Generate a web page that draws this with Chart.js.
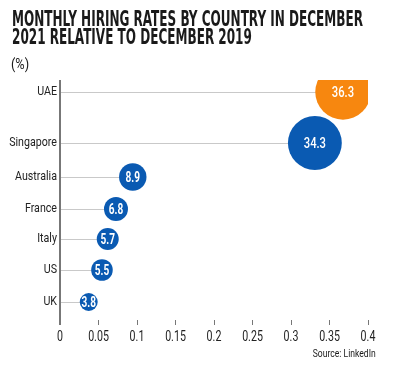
<!DOCTYPE html>
<html lang="en">
<head>
    <meta charset="UTF-8">
    <title>Monthly hiring rates by country</title>
    <script src="https://cdn.jsdelivr.net/npm/chart.js"></script>
    <style>
        body {
            margin: 0;
            padding: 0;
            background: white;
            font-family: "Liberation Sans Narrow", "DejaVu Sans Condensed", Roboto, sans-serif;
            color: #1a1a1a;
        }
        .wrap {
            position: relative;
            width: 400px;
            height: 373px;
            overflow: hidden;
        }
        .title {
            position: absolute;
            left: 12px;
            top: 10px;
            font-weight: bold;
            font-size: 22px;
            line-height: 18px;
            white-space: nowrap;
            transform-origin: 0 0;
        }
        .unit {
            position: absolute;
            left: 11px;
            top: 55px;
            font-family: Roboto, sans-serif;
            font-size: 15px;
            transform: scaleX(0.85);
            transform-origin: 0 0;
        }
        .source {
            position: absolute;
            right: 24px;
            top: 347px;
            font-family: Roboto, sans-serif;
            font-size: 11px;
            white-space: nowrap;
            transform: scaleX(0.78);
            transform-origin: 100% 0;
        }
        canvas {
            position: absolute;
            left: 0;
            top: 0;
        }
    </style>
</head>
<body>
<div class="wrap">
    <canvas id="hiringChart" width="400" height="373"></canvas>
    <div class="title" id="title">MONTHLY HIRING RATES BY COUNTRY IN DECEMBER<br>2021 RELATIVE TO DECEMBER 2019</div>
    <div class="unit">(%)</div>
    <div class="source">Source: LinkedIn</div>
</div>

<script>
    // data
    const countries = ["UAE", "Singapore", "Australia", "France", "Italy", "US", "UK"];
    const rates = [36.3, 34.3, 8.9, 6.8, 5.7, 5.5, 3.8];          // printed in the bubbles
    const xPos = [0.3675, 0.331, 0.0945, 0.0727, 0.062, 0.0545, 0.0373]; // bubble centres on the x axis
    const xTicks = [0, 0.05, 0.1, 0.15, 0.2, 0.25, 0.3, 0.35, 0.4];

    // layout: vertical offset of each row (px from the first row)
    const rowOffsets = [0, 51, 85, 117, 147, 178, 210];

    const FONT = 'Roboto, sans-serif';

    // squeeze the headline to the width it has in the original
    const title = document.getElementById('title');
    const tw = title.getBoundingClientRect().width;
    title.style.transform = 'scaleX(' + (351 / tw) + ')';

    const bubbles = countries.map((c, i) => ({
        x: xPos[i],
        y: rowOffsets[i],
        r: 4.6 * Math.sqrt(rates[i])
    }));

    // condensed text: draw with a horizontal squeeze
    function squeezedText(ctx, text, x, y, align, sx) {
        ctx.save();
        ctx.translate(x, y);
        ctx.scale(sx, 1);
        ctx.textAlign = align;
        ctx.fillText(text, 0, 0);
        ctx.restore();
    }

    // light row lines + the left axis line, drawn under the bubbles
    const rowLines = {
        id: 'rowLines',
        beforeDatasetsDraw(chart) {
            const ctx = chart.ctx;
            const area = chart.chartArea;
            const meta = chart.getDatasetMeta(0);
            ctx.save();
            ctx.strokeStyle = '#c9c9c9';
            ctx.lineWidth = 1;
            meta.data.forEach(el => {
                ctx.beginPath();
                ctx.moveTo(area.left, Math.round(el.y) + 0.5);
                ctx.lineTo(el.x, Math.round(el.y) + 0.5);
                ctx.stroke();
            });
            ctx.strokeStyle = '#777';
            ctx.lineWidth = 2;
            ctx.beginPath();
            ctx.moveTo(area.left, area.top);
            ctx.lineTo(area.left, area.bottom + 5);
            ctx.stroke();
            ctx.restore();
        }
    };

    // value text inside each bubble + axis labels in a condensed cut
    const labels = {
        id: 'labels',
        afterDatasetsDraw(chart) {
            const ctx = chart.ctx;
            const area = chart.chartArea;
            const meta = chart.getDatasetMeta(0);
            const xs = chart.scales.x;
            const ys = chart.scales.y;
            ctx.save();
            ctx.textBaseline = 'middle';

            ctx.fillStyle = '#ffffff';
            meta.data.forEach((el, i) => {
                const big = rates[i] > 20;
                ctx.font = (big ? '500' : 'bold') + ' 14px ' + FONT;
                squeezedText(ctx, rates[i].toFixed(1), el.x, el.y + 1, 'center', big ? 0.8 : 0.72);
            });

            ctx.fillStyle = '#222';
            ctx.font = '13px ' + FONT;
            rowOffsets.forEach((v, i) => {
                squeezedText(ctx, countries[i], area.left - 3, ys.getPixelForValue(v), 'right', 0.82);
            });

            ctx.font = '14px ' + FONT;
            xTicks.forEach(v => {
                squeezedText(ctx, String(v), xs.getPixelForValue(v), area.bottom + 17, 'center', 0.76);
            });
            ctx.restore();
        }
    };

    const ctx = document.getElementById('hiringChart').getContext('2d');

    new Chart(ctx, {
        type: 'bubble',
        data: {
            datasets: [{
                data: bubbles,
                backgroundColor: countries.map((c, i) => i === 0 ? '#f7870f' : '#0a5ab2'),
                borderWidth: 0,
                hoverBorderWidth: 0
            }]
        },
        options: {
            responsive: false,
            animation: false,
            events: [],
            layout: {
                padding: { left: 0, right: 32, top: 80, bottom: 23 }
            },
            scales: {
                x: {
                    type: 'linear',
                    min: 0,
                    max: 0.4,
                    afterFit: s => { s.height = 30; },
                    afterBuildTicks: s => { s.ticks = xTicks.map(v => ({ value: v })); },
                    border: { display: false },
                    grid: {
                        drawOnChartArea: false,
                        drawTicks: true,
                        tickLength: 5,
                        color: ctx => ctx.tick && ctx.tick.value === 0 ? 'rgba(0,0,0,0)' : '#777',
                        lineWidth: 1
                    },
                    ticks: { display: false }
                },
                y: {
                    type: 'linear',
                    reverse: true,
                    min: -12,
                    max: 228,
                    afterFit: s => { s.width = 60; },
                    border: { display: false },
                    grid: { display: false },
                    ticks: { display: false }
                }
            },
            plugins: {
                legend: { display: false },
                tooltip: { enabled: false }
            }
        },
        plugins: [rowLines, labels]
    });
</script>
</body>
</html>
